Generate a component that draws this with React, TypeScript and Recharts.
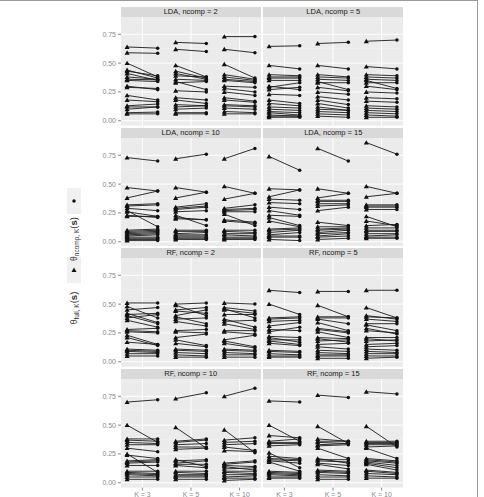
import React from 'react';
import { ScatterChart, Scatter, XAxis, YAxis, CartesianGrid } from 'recharts';

// ---------- data ----------
const kLabels = ['K = 3', 'K = 5', 'K = 10'];
const yTicks = [0, 0.25, 0.5, 0.75];
const yMinor = [0.125, 0.375, 0.625, 0.875];

// LDA, ncomp = 2
const lda2_k3_full = [0.64, 0.59, 0.50, 0.44, 0.43, 0.41, 0.38, 0.36, 0.35, 0.30, 0.29, 0.22, 0.18, 0.13, 0.12, 0.10, 0.07, 0.06];
const lda2_k3_ncomp = [0.63, 0.585, 0.38, 0.37, 0.39, 0.35, 0.36, 0.355, 0.34, 0.27, 0.28, 0.18, 0.165, 0.145, 0.12, 0.12, 0.075, 0.06];
const lda2_k5_full = [0.68, 0.62, 0.48, 0.43, 0.41, 0.39, 0.36, 0.34, 0.33, 0.26, 0.20, 0.18, 0.14, 0.12, 0.10, 0.07, 0.06];
const lda2_k5_ncomp = [0.67, 0.60, 0.38, 0.37, 0.36, 0.38, 0.35, 0.27, 0.34, 0.25, 0.18, 0.15, 0.13, 0.13, 0.11, 0.07, 0.06];
const lda2_k10_full = [0.73, 0.62, 0.49, 0.40, 0.38, 0.36, 0.35, 0.30, 0.28, 0.25, 0.20, 0.18, 0.14, 0.13, 0.11, 0.08, 0.06];
const lda2_k10_ncomp = [0.73, 0.59, 0.37, 0.36, 0.35, 0.34, 0.33, 0.29, 0.25, 0.22, 0.17, 0.16, 0.13, 0.12, 0.10, 0.07, 0.06];

// LDA, ncomp = 5
const lda5_k3_full = [0.645, 0.48, 0.40, 0.38, 0.37, 0.35, 0.30, 0.29, 0.27, 0.23, 0.18, 0.15, 0.12, 0.10, 0.08, 0.07, 0.05, 0.04, 0.03];
const lda5_k3_ncomp = [0.65, 0.45, 0.39, 0.38, 0.37, 0.35, 0.27, 0.33, 0.29, 0.22, 0.15, 0.13, 0.11, 0.09, 0.07, 0.05, 0.04, 0.04, 0.03];
const lda5_k5_full = [0.67, 0.48, 0.40, 0.38, 0.36, 0.34, 0.33, 0.29, 0.25, 0.21, 0.18, 0.15, 0.12, 0.10, 0.08, 0.06, 0.04];
const lda5_k5_ncomp = [0.68, 0.45, 0.38, 0.37, 0.35, 0.27, 0.33, 0.26, 0.23, 0.18, 0.14, 0.11, 0.09, 0.09, 0.07, 0.05, 0.03];
const lda5_k10_full = [0.69, 0.47, 0.40, 0.38, 0.36, 0.35, 0.33, 0.30, 0.25, 0.20, 0.17, 0.13, 0.11, 0.09, 0.07, 0.05, 0.03];
const lda5_k10_ncomp = [0.70, 0.45, 0.39, 0.37, 0.35, 0.28, 0.33, 0.27, 0.24, 0.19, 0.16, 0.12, 0.10, 0.08, 0.06, 0.04, 0.03];

// LDA, ncomp = 10
const lda10_k3_full = [0.73, 0.47, 0.38, 0.32, 0.31, 0.29, 0.27, 0.26, 0.23, 0.22, 0.10, 0.09, 0.08, 0.07, 0.06, 0.05, 0.04, 0.03, 0.02, 0.01];
const lda10_k3_ncomp = [0.70, 0.44, 0.44, 0.33, 0.32, 0.27, 0.13, 0.22, 0.21, 0.22, 0.11, 0.10, 0.09, 0.08, 0.07, 0.06, 0.04, 0.03, 0.02, 0.01];
const lda10_k5_full = [0.72, 0.47, 0.38, 0.30, 0.29, 0.28, 0.26, 0.23, 0.21, 0.20, 0.10, 0.09, 0.07, 0.06, 0.05, 0.04, 0.03, 0.02];
const lda10_k5_ncomp = [0.76, 0.43, 0.43, 0.33, 0.31, 0.30, 0.27, 0.14, 0.19, 0.19, 0.10, 0.09, 0.08, 0.06, 0.05, 0.04, 0.03, 0.02];
const lda10_k10_full = [0.72, 0.48, 0.37, 0.29, 0.28, 0.27, 0.26, 0.24, 0.19, 0.18, 0.10, 0.09, 0.07, 0.06, 0.04, 0.03, 0.02];
const lda10_k10_ncomp = [0.81, 0.42, 0.42, 0.32, 0.29, 0.28, 0.26, 0.14, 0.17, 0.16, 0.10, 0.08, 0.07, 0.05, 0.04, 0.03, 0.02];

// LDA, ncomp = 15
const lda15_k3_full = [0.74, 0.46, 0.39, 0.37, 0.34, 0.30, 0.27, 0.23, 0.21, 0.18, 0.11, 0.10, 0.08, 0.06, 0.05, 0.04, 0.02];
const lda15_k3_ncomp = [0.62, 0.45, 0.45, 0.36, 0.33, 0.28, 0.23, 0.22, 0.14, 0.13, 0.12, 0.11, 0.10, 0.08, 0.05, 0.04, 0.01];
const lda15_k5_full = [0.81, 0.46, 0.38, 0.36, 0.35, 0.33, 0.31, 0.27, 0.17, 0.13, 0.11, 0.10, 0.08, 0.07, 0.05, 0.04, 0.02];
const lda15_k5_ncomp = [0.70, 0.42, 0.42, 0.36, 0.35, 0.33, 0.32, 0.30, 0.14, 0.13, 0.12, 0.11, 0.10, 0.08, 0.07, 0.05, 0.03];
const lda15_k10_full = [0.86, 0.48, 0.39, 0.32, 0.31, 0.30, 0.28, 0.22, 0.18, 0.14, 0.12, 0.10, 0.09, 0.07, 0.05, 0.04, 0.03];
const lda15_k10_ncomp = [0.76, 0.42, 0.42, 0.32, 0.31, 0.30, 0.28, 0.13, 0.14, 0.15, 0.12, 0.10, 0.09, 0.07, 0.06, 0.04, 0.03];

// RF, ncomp = 2
const rf2_k3_full = [0.51, 0.48, 0.45, 0.42, 0.41, 0.40, 0.38, 0.36, 0.28, 0.27, 0.26, 0.23, 0.21, 0.17, 0.11, 0.10, 0.09, 0.07, 0.05];
const rf2_k3_ncomp = [0.51, 0.38, 0.47, 0.34, 0.42, 0.33, 0.41, 0.30, 0.29, 0.26, 0.25, 0.15, 0.14, 0.15, 0.10, 0.09, 0.08, 0.07, 0.05];
const rf2_k5_full = [0.50, 0.49, 0.45, 0.44, 0.40, 0.39, 0.37, 0.35, 0.27, 0.26, 0.21, 0.19, 0.16, 0.11, 0.10, 0.08, 0.06, 0.04];
const rf2_k5_ncomp = [0.51, 0.40, 0.47, 0.42, 0.45, 0.33, 0.38, 0.31, 0.28, 0.25, 0.24, 0.14, 0.13, 0.10, 0.09, 0.07, 0.05, 0.04];
const rf2_k10_full = [0.51, 0.47, 0.46, 0.45, 0.41, 0.37, 0.35, 0.33, 0.27, 0.26, 0.19, 0.18, 0.16, 0.11, 0.10, 0.08, 0.06, 0.04];
const rf2_k10_ncomp = [0.50, 0.44, 0.38, 0.42, 0.41, 0.30, 0.36, 0.28, 0.27, 0.24, 0.23, 0.13, 0.12, 0.10, 0.09, 0.07, 0.06, 0.04];

// RF, ncomp = 5
const rf5_k3_full = [0.62, 0.50, 0.38, 0.37, 0.35, 0.31, 0.28, 0.26, 0.22, 0.21, 0.19, 0.18, 0.16, 0.10, 0.09, 0.07, 0.05, 0.04];
const rf5_k3_ncomp = [0.60, 0.41, 0.39, 0.38, 0.36, 0.34, 0.27, 0.30, 0.21, 0.17, 0.19, 0.15, 0.14, 0.09, 0.08, 0.06, 0.05, 0.04];
const rf5_k5_full = [0.61, 0.49, 0.39, 0.38, 0.37, 0.34, 0.29, 0.28, 0.26, 0.21, 0.20, 0.18, 0.15, 0.13, 0.10, 0.08, 0.06, 0.05, 0.03];
const rf5_k5_ncomp = [0.61, 0.39, 0.39, 0.38, 0.33, 0.27, 0.26, 0.25, 0.21, 0.20, 0.17, 0.19, 0.16, 0.11, 0.09, 0.07, 0.06, 0.05, 0.03];
const rf5_k10_full = [0.62, 0.47, 0.40, 0.39, 0.37, 0.33, 0.32, 0.29, 0.27, 0.21, 0.20, 0.18, 0.15, 0.13, 0.11, 0.09, 0.07, 0.05, 0.03];
const rf5_k10_ncomp = [0.62, 0.38, 0.37, 0.38, 0.35, 0.33, 0.27, 0.24, 0.25, 0.21, 0.18, 0.19, 0.16, 0.14, 0.10, 0.08, 0.07, 0.05, 0.04];

// RF, ncomp = 10
const rf10_k3_full = [0.70, 0.50, 0.38, 0.37, 0.35, 0.33, 0.30, 0.25, 0.24, 0.19, 0.18, 0.17, 0.15, 0.10, 0.09, 0.08, 0.07, 0.05, 0.03];
const rf10_k3_ncomp = [0.72, 0.35, 0.38, 0.36, 0.34, 0.33, 0.27, 0.09, 0.21, 0.20, 0.19, 0.18, 0.15, 0.10, 0.08, 0.07, 0.06, 0.05, 0.03];
const rf10_k5_full = [0.73, 0.48, 0.36, 0.35, 0.33, 0.31, 0.29, 0.20, 0.19, 0.17, 0.16, 0.15, 0.10, 0.09, 0.07, 0.06, 0.05, 0.03];
const rf10_k5_ncomp = [0.78, 0.30, 0.38, 0.37, 0.34, 0.31, 0.30, 0.14, 0.20, 0.19, 0.16, 0.13, 0.10, 0.08, 0.07, 0.06, 0.05, 0.03];
const rf10_k10_full = [0.75, 0.46, 0.37, 0.35, 0.33, 0.31, 0.28, 0.17, 0.16, 0.15, 0.14, 0.12, 0.10, 0.09, 0.07, 0.05, 0.04, 0.02];
const rf10_k10_ncomp = [0.82, 0.26, 0.39, 0.36, 0.34, 0.28, 0.27, 0.19, 0.18, 0.14, 0.11, 0.13, 0.10, 0.08, 0.07, 0.06, 0.04, 0.03];

// RF, ncomp = 15
const rf15_k3_full = [0.71, 0.50, 0.41, 0.36, 0.35, 0.34, 0.32, 0.26, 0.23, 0.21, 0.20, 0.19, 0.18, 0.10, 0.09, 0.08, 0.07, 0.05, 0.04];
const rf15_k3_ncomp = [0.70, 0.36, 0.39, 0.38, 0.35, 0.34, 0.33, 0.13, 0.21, 0.20, 0.19, 0.17, 0.10, 0.09, 0.08, 0.07, 0.06, 0.05, 0.04];
const rf15_k5_full = [0.76, 0.49, 0.38, 0.36, 0.35, 0.33, 0.32, 0.30, 0.21, 0.20, 0.19, 0.17, 0.16, 0.11, 0.10, 0.09, 0.07, 0.05, 0.03];
const rf15_k5_ncomp = [0.74, 0.34, 0.36, 0.36, 0.34, 0.34, 0.33, 0.21, 0.17, 0.20, 0.18, 0.15, 0.12, 0.10, 0.09, 0.08, 0.06, 0.05, 0.03];
const rf15_k10_full = [0.79, 0.49, 0.36, 0.35, 0.34, 0.33, 0.31, 0.30, 0.21, 0.20, 0.19, 0.18, 0.17, 0.16, 0.11, 0.10, 0.08, 0.06, 0.04];
const rf15_k10_ncomp = [0.77, 0.31, 0.36, 0.35, 0.34, 0.33, 0.32, 0.21, 0.19, 0.18, 0.17, 0.15, 0.13, 0.11, 0.09, 0.08, 0.07, 0.05, 0.04];

const panels = [
  { title: 'LDA, ncomp = 2', full: [lda2_k3_full, lda2_k5_full, lda2_k10_full], ncomp: [lda2_k3_ncomp, lda2_k5_ncomp, lda2_k10_ncomp] },
  { title: 'LDA, ncomp = 5', full: [lda5_k3_full, lda5_k5_full, lda5_k10_full], ncomp: [lda5_k3_ncomp, lda5_k5_ncomp, lda5_k10_ncomp] },
  { title: 'LDA, ncomp = 10', full: [lda10_k3_full, lda10_k5_full, lda10_k10_full], ncomp: [lda10_k3_ncomp, lda10_k5_ncomp, lda10_k10_ncomp] },
  { title: 'LDA, ncomp = 15', full: [lda15_k3_full, lda15_k5_full, lda15_k10_full], ncomp: [lda15_k3_ncomp, lda15_k5_ncomp, lda15_k10_ncomp] },
  { title: 'RF, ncomp = 2', full: [rf2_k3_full, rf2_k5_full, rf2_k10_full], ncomp: [rf2_k3_ncomp, rf2_k5_ncomp, rf2_k10_ncomp] },
  { title: 'RF, ncomp = 5', full: [rf5_k3_full, rf5_k5_full, rf5_k10_full], ncomp: [rf5_k3_ncomp, rf5_k5_ncomp, rf5_k10_ncomp] },
  { title: 'RF, ncomp = 10', full: [rf10_k3_full, rf10_k5_full, rf10_k10_full], ncomp: [rf10_k3_ncomp, rf10_k5_ncomp, rf10_k10_ncomp] },
  { title: 'RF, ncomp = 15', full: [rf15_k3_full, rf15_k5_full, rf15_k10_full], ncomp: [rf15_k3_ncomp, rf15_k5_ncomp, rf15_k10_ncomp] },
];

// ---------- layout ----------
const FONT = '"Liberation Sans", Arial, Helvetica, sans-serif';
const ROW_TOP0 = 7;
const ROW_PITCH = 120.6;
const STRIP_H = 10;
const PLOT_H = 108.6;
const COL_LEFT = [120.7, 263.3];
const PLOT_W = 140;
const YAXIS_W = 40;
const XAXIS_H = 14;
const DODGE = 0.315;
const X_DOMAIN: [number, number] = [0.56, 3.44];
const Y_DOMAIN: [number, number] = [-0.042, 0.9];
const AXIS_GREY = '#8a8a8a';

const Mark = (p: any) => {
  const { cx, cy, payload } = p;
  if (cx == null || cy == null || !payload) return null;
  if (payload.kind === 't') {
    const s = 2.3;
    return (
      <polygon
        points={`${cx},${cy - s * 1.05} ${cx - s * 1.1},${cy + s * 0.85} ${cx + s * 1.1},${cy + s * 0.85}`}
        fill="#111"
      />
    );
  }
  return <circle cx={cx} cy={cy} r={1.75} fill="#111" />;
};

function Panel({ idx }: { idx: number }) {
  const panel = panels[idx];
  const r = Math.floor(idx / 2);
  const c = idx % 2;
  const stripTop = ROW_TOP0 + r * ROW_PITCH;
  const isLeft = c === 0;
  const isBottom = r === 3;
  const chartW = PLOT_W + (isLeft ? YAXIS_W : 0);
  const chartH = PLOT_H + (isBottom ? XAXIS_H : 0);

  const series: { key: string; pts: any[] }[] = [];
  panel.full.forEach((fullArr, k) => {
    const nArr = panel.ncomp[k];
    fullArr.forEach((fv, i) => {
      series.push({
        key: `${k}-${i}`,
        pts: [
          { x: k + 1 - DODGE, y: fv, kind: 't' },
          { x: k + 1 + DODGE, y: nArr[i], kind: 'c' },
        ],
      });
    });
  });

  return (
    <>
      <div
        style={{
          position: 'absolute',
          left: COL_LEFT[c],
          top: stripTop,
          width: PLOT_W,
          height: STRIP_H,
          background: '#D9D9D9',
          color: '#1a1a1a',
          fontFamily: FONT,
          fontSize: 7.5,
          lineHeight: `${STRIP_H}px`,
          textAlign: 'center',
          whiteSpace: 'nowrap',
        }}
      >
        {panel.title}
      </div>
      <div
        style={{
          position: 'absolute',
          left: COL_LEFT[c] - (isLeft ? YAXIS_W : 0),
          top: stripTop + STRIP_H,
          width: chartW,
          height: chartH,
        }}
      >
        <ScatterChart width={chartW} height={chartH} margin={{ top: 0, right: 0, bottom: 0, left: 0 }}>
          <CartesianGrid
            horizontalValues={yMinor}
            vertical={false}
            stroke="#F4F4F4"
            strokeWidth={0.5}
            fill="#EBEBEB"
            fillOpacity={1}
          />
          <CartesianGrid horizontalValues={yTicks} verticalValues={[1, 2, 3]} stroke="#FFFFFF" strokeWidth={1} />
          <XAxis
            type="number"
            dataKey="x"
            domain={X_DOMAIN}
            allowDataOverflow
            ticks={[1, 2, 3]}
            interval={0}
            tickFormatter={(v: number) => kLabels[Math.round(v) - 1]}
            hide={!isBottom}
            height={XAXIS_H}
            tickSize={3}
            tickMargin={1}
            axisLine={false}
            tickLine={{ stroke: AXIS_GREY }}
            tick={{ fontSize: 7, fill: AXIS_GREY, fontFamily: FONT }}
          />
          <YAxis
            type="number"
            dataKey="y"
            domain={Y_DOMAIN}
            allowDataOverflow
            ticks={yTicks}
            interval={0}
            tickFormatter={(v: number) => v.toFixed(2)}
            hide={!isLeft}
            width={YAXIS_W}
            tickSize={3}
            tickMargin={2}
            axisLine={false}
            tickLine={{ stroke: AXIS_GREY }}
            tick={{ fontSize: 7, fill: AXIS_GREY, fontFamily: FONT }}
          />
          {series.map((s) => (
            <Scatter
              key={s.key}
              data={s.pts}
              fill="#111"
              stroke="#1a1a1a"
              line={{ stroke: '#1a1a1a', strokeWidth: 0.9 }}
              shape={Mark}
              isAnimationActive={false}
            />
          ))}
        </ScatterChart>
      </div>
    </>
  );
}

function LegendAndFrame() {
  return (
    <svg
      width={484}
      height={497}
      style={{ position: 'absolute', left: 0, top: 0, pointerEvents: 'none' }}
    >
      <line x1={0} y1={0.5} x2={478} y2={0.5} stroke="#9a9a9a" strokeWidth={1} />
      <line x1={477.5} y1={0} x2={477.5} y2={497} stroke="#9a9a9a" strokeWidth={1} />
      {/* key 1: circle */}
      <rect x={67} y={188} width={14} height={26} fill="#F0F0F0" />
      <circle cx={74} cy={201} r={1.75} fill="#111" />
      {/* key 2: triangle */}
      <rect x={67} y={257} width={14} height={26} fill="#F0F0F0" />
      <polygon points="74,267.6 71.5,271.9 76.5,271.9" fill="#111" />
      <text
        transform="translate(77,239) rotate(-90)"
        textAnchor="middle"
        fontFamily={FONT}
        fontSize={8.5}
        fill="#333"
      >
        θ
        <tspan fontSize={6.5} dy={2}>ncomp, K</tspan>
        <tspan fontSize={9.5} dy={-2}>(</tspan>
        <tspan fontSize={9.5} fontWeight="bold">s</tspan>
        <tspan fontSize={9.5}>)</tspan>
      </text>
      <text
        transform="translate(77,308) rotate(-90)"
        textAnchor="middle"
        fontFamily={FONT}
        fontSize={8.5}
        fill="#333"
      >
        θ
        <tspan fontSize={6.5} dy={2}>full, K</tspan>
        <tspan fontSize={9.5} dy={-2}>(</tspan>
        <tspan fontSize={9.5} fontWeight="bold">s</tspan>
        <tspan fontSize={9.5}>)</tspan>
      </text>
    </svg>
  );
}

export default function App() {
  return (
    <div style={{ position: 'absolute', left: 0, top: 0, width: 484, height: 497, background: '#fff', overflow: 'hidden' }}>
      {panels.map((_, i) => (
        <Panel key={i} idx={i} />
      ))}
      <LegendAndFrame />
    </div>
  );
}
